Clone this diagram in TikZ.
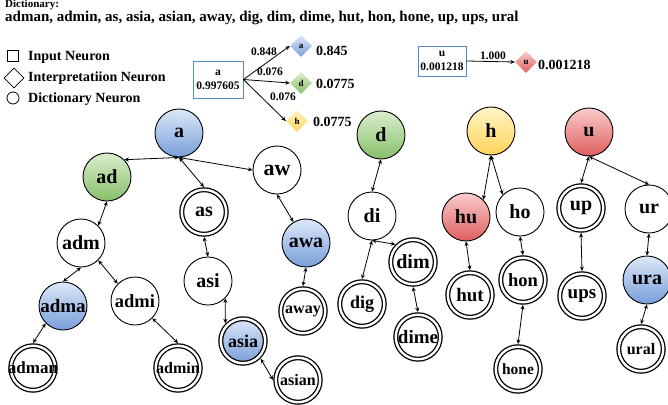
\documentclass[tikz,border=0pt]{standalone}
\usepackage{fontspec}
\setmainfont{Liberation Serif}
\usepackage{tikz}
\usetikzlibrary{arrows.meta,shapes.geometric,positioning}
\definecolor{neuBlueTop}{HTML}{DCE8F8}
\definecolor{neuBlueBot}{HTML}{789EDA}
\definecolor{neuGreenTop}{HTML}{DAEECC}
\definecolor{neuGreenBot}{HTML}{86BF69}
\definecolor{neuYellowTop}{HTML}{FFF4C8}
\definecolor{neuYellowBot}{HTML}{FFD45A}
\definecolor{neuRedTop}{HTML}{F9CCCC}
\definecolor{neuRedBot}{HTML}{E05E5E}
\definecolor{boxBlue}{HTML}{5B87C5}
\newcommand{\wlabel}[1]{\makebox[0pt]{#1}}
\tikzset{
  link/.style={{Stealth[length=4.5pt,width=4pt]}-{Stealth[length=4.5pt,width=4pt]},
    line width=0.8pt},
  flow/.style={-{Stealth[length=4.5pt,width=4pt]}, line width=0.8pt},
  neuron/.style={circle, draw, line width=0.9pt, minimum size=48pt,
    inner sep=0pt, font=\fontsize{20}{20}\selectfont\bfseries},
  word neuron/.style={neuron, double, line width=1.3pt, double distance=2.4pt,
    minimum size=44.5pt, outer sep=2.7pt},
  fs/.style={font=\fontsize{#1}{#1}\selectfont\bfseries},
  blue neuron/.style={top color=neuBlueTop, bottom color=neuBlueBot},
  green neuron/.style={top color=neuGreenTop, bottom color=neuGreenBot},
  yellow neuron/.style={top color=neuYellowTop, bottom color=neuYellowBot},
  red neuron/.style={top color=neuRedTop, bottom color=neuRedBot},
  input box/.style={draw=boxBlue, line width=0.9pt, align=center,
    minimum width=50pt, minimum height=37pt, inner sep=1pt,
    font=\fontsize{11.5}{14}\selectfont\bfseries},
  interp/.style={diamond, minimum size=22pt, inner sep=0pt,
    font=\fontsize{9}{9}\selectfont\bfseries},
  weight/.style={font=\fontsize{11.5}{11.5}\selectfont\bfseries},
  score/.style={anchor=west, inner sep=0pt, font=\fontsize{14}{14}\selectfont\bfseries},
  legend text/.style={anchor=west, inner sep=0pt, font=\fontsize{14}{14}\selectfont\bfseries}
}
\begin{document}
\begin{tikzpicture}[x=1pt,y=-1pt]
  \useasboundingbox (0,0) rectangle (668,404);
  \node[anchor=west, inner sep=0pt, fs=11] (dtitle) at (5,5) {Dictionary:};
  \node[anchor=west, inner sep=0pt, fs=15] (dwords) at (5,18)
    {adman, admin, as, asia, asian, away, dig, dim, dime, hut, hon, hone, up, ups, ural};

  \node[rectangle, draw, line width=0.8pt, minimum size=11pt, inner sep=0pt] (lgin) at (13,56) {};
  \node[diamond, draw, line width=0.8pt, minimum size=20pt, inner sep=0pt] (lgint) at (14,78) {};
  \node[circle, draw, line width=0.8pt, minimum size=12pt, inner sep=0pt] (lgdic) at (13,98) {};
  \node[legend text] (lgintxt) at (28,57) {Input Neuron};
  \node[legend text] (lginttxt) at (28,78) {Interpretatiion Neuron};
  \node[legend text] (lgdictxt) at (28,99) {Dictionary Neuron};

  \node[input box] (abox) at (218,79.5) {a\\0.997605};
  \node[interp, blue neuron] (da) at (301,46) {a};
  \node[interp, green neuron] (dd) at (301,83) {d};
  \node[interp, yellow neuron] (dh) at (297,121) {h};
  \draw[flow] (abox.east) -- (da.west); \draw[flow] (abox.east) -- (dd.west);
  \draw[flow] (abox.east) -- (dh.west);
  \node[weight] (wa) at (264,52) {0.848};
  \node[weight] (wd) at (270,72) {0.076};
  \node[weight] (wh) at (283,97) {0.076};
  \node[score] (sa) at (316,51) {0.845};
  \node[score] (sd) at (316,84) {0.0775};
  \node[score] (sh) at (313,122) {0.0775};

  \node[input box, minimum width=48pt, minimum height=30pt] (ubox) at (442,61) {u\\0.001218};
  \node[interp, red neuron] (du) at (526,62) {u};
  \draw[flow] (ubox.east) -- (du.west);
  \node[weight] (wu) at (493,56) {1.000};
  \node[score] (su) at (538,65) {0.001218};

  \node[neuron, blue neuron] (a) at (179,133) {a};
  \node[neuron, green neuron] (ad) at (107,177) {ad};
  \node[neuron, fs=22] (aw) at (277,170) {aw};
  \node[word neuron] (as) at (204,212) {as};
  \node[neuron] (adm) at (81,243) {adm};
  \node[neuron, blue neuron] (awa) at (306,243) {awa};
  \node[neuron] (asi) at (208,281) {asi};
  \node[neuron, blue neuron, fs=19] (adma) at (63,306) {\wlabel{adma}};
  \node[neuron, fs=18.5] (admi) at (135,301) {admi};
  \node[word neuron, fs=17] (adman) at (33,368) {\wlabel{adman}};
  \node[word neuron, fs=16] (admin) at (178,368) {\wlabel{admin}};
  \node[word neuron, blue neuron, fs=18] (asia) at (243,341) {asia};
  \node[word neuron, fs=16] (asian) at (298,380) {asian};
  \node[word neuron, fs=16] (away) at (303,311) {away};

  \node[neuron, green neuron] (d) at (381,135) {d};
  \node[neuron] (di) at (372,216) {di};
  \node[word neuron, fs=18] (dig) at (362,304) {dig};
  \node[word neuron] (dim) at (413,262) {dim};
  \node[word neuron, fs=19] (dime) at (418,337) {dime};

  \node[neuron, yellow neuron] (h) at (491,131) {h};
  \node[neuron, red neuron] (hu) at (466,217) {hu};
  \node[neuron] (ho) at (520,212) {ho};
  \node[word neuron, fs=19] (hut) at (470,295) {hut};
  \node[word neuron, fs=18.5] (hon) at (523,280) {hon};
  \node[word neuron, fs=15.5] (hone) at (518,369) {hone};

  \node[neuron, red neuron] (u) at (589,132) {u};
  \node[word neuron] (up) at (581,208) {up};
  \node[neuron] (ur) at (649,209) {ur};
  \node[word neuron, fs=19] (ups) at (582,296) {ups};
  \node[neuron, blue neuron] (ura) at (647,280) {ura};
  \node[word neuron, fs=16] (ural) at (641,349) {ural};

  \draw[link] (a.south) -- (ad.north east); \draw[link] (a.south) -- (as.north);
  \draw[link] (a.south) -- (aw.west);
  \draw[link] (ad.south) -- (adm.north east); \draw[link] (adm.south) -- (adma.north);
  \draw[link] (adm.south east) -- (admi.north west);
  \draw[link] (adma.south west) -- (adman.north); \draw[link] (admi.south east) -- (admin.north);
  \draw[link] (as.south) -- (asi.north); \draw[link] (asi.south east) -- (asia.north west);
  \draw[link] (asia.south east) -- (asian.west);
  \draw[link] (aw.south) -- (awa); \draw[link] (awa.south) -- (away.north);
  \draw[link] (d.south) -- (di.north); \draw[link] (di.south) -- (dig.north);
  \draw[link] (di.south) -- (dim.north west); \draw[link] (dim.south) -- (dime.north);
  \draw[link] (h.south) -- (hu.north east); \draw[link] (h.south) -- (ho.north west);
  \draw[link] (hu.south) -- (hut.north); \draw[link] (ho.south) -- (hon.north);
  \draw[link] (hon.south) -- (hone.north);
  \draw[link] (u.south) -- (up.north); \draw[link] (u.south) -- (ur.north);
  \draw[link] (up.south) -- (ups.north); \draw[link] (ur.south) -- (ura.north);
  \draw[link] (ura.south) -- (ural.north);
\end{tikzpicture}
\end{document}
